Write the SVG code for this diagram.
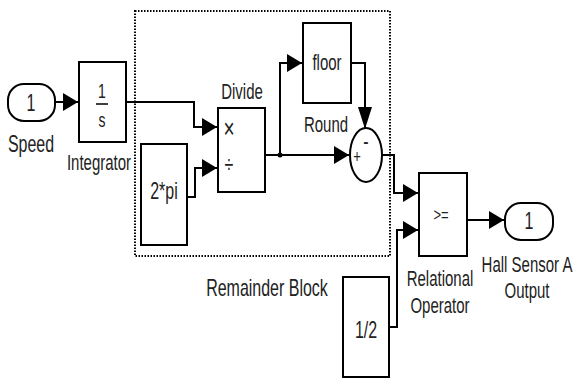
<svg xmlns="http://www.w3.org/2000/svg" width="575" height="383" viewBox="0 0 575 383">
<defs>
<marker id="ah" markerUnits="userSpaceOnUse" markerWidth="16" markerHeight="18" refX="15" refY="9" orient="auto">
<path d="M0,0 L15,9 L0,18 Z" fill="#000"/>
</marker>
<marker id="av" markerUnits="userSpaceOnUse" markerWidth="16" markerHeight="23" refX="8" refY="22" orient="0">
<path d="M1,0 L15,0 L8,22 Z" fill="#000"/>
</marker>
<style>
.b{fill:#fff;stroke:#000;stroke-width:2}
.w{fill:none;stroke:#000;stroke-width:2}
text{font-family:"Liberation Sans",Arial,sans-serif;font-size:15px;fill:#222;text-anchor:middle}
</style>
</defs>
<rect x="135" y="11" width="255" height="245" fill="none" stroke="#000" stroke-width="2" stroke-dasharray="1.5,1.5"/>
<g id="connectors">
<path class="w" d="M55,102 L78,102" marker-end="url(#ah)"/>
<path class="w" d="M126,102 L194,102 L194,127 L217,127" marker-end="url(#ah)"/>
<path class="w" d="M187,197 L195,197 L195,168 L217,168" marker-end="url(#ah)"/>
<path class="w" d="M265,155 L349,155" marker-end="url(#ah)"/>
<path class="w" d="M280,155 L280,63 L302,63" marker-end="url(#ah)"/>
<path class="w" d="M351,63 L365,63 L365,129" marker-end="url(#av)"/>
<path class="w" d="M382,155 L394,155 L394,193 L418,193" marker-end="url(#ah)"/>
<path class="w" d="M389,327 L397,327 L397,230 L418,230" marker-end="url(#ah)"/>
<path class="w" d="M467,220 L504,220" marker-end="url(#ah)"/>
<circle cx="280" cy="155" r="2.5" fill="#000"/>
</g>
<g id="speed">
<rect class="b" x="8" y="84" width="47" height="37" rx="16"/>
<text transform="translate(31,111) scale(1,1.45)" style="font-size:16px">1</text>
<text transform="translate(31,152) scale(1,1.45)" style="font-size:16px">Speed</text>
</g>
<g id="integrator">
<rect class="b" x="79" y="62" width="47" height="80"/>
<text transform="translate(102,98) scale(1,1.45)" style="font-size:14px">1</text>
<line x1="96" y1="104" x2="108" y2="104" stroke="#000" stroke-width="1.5"/>
<text transform="translate(102,127) scale(1,1.45)" style="font-size:14px">s</text>
<text transform="translate(99,170) scale(1,1.45)">Integrator</text>
</g>
<g id="twopi">
<rect class="b" x="141" y="144" width="46" height="101"/>
<text transform="translate(164,199) scale(1,1.45)" style="font-size:16px">2*pi</text>
</g>
<g id="divide">
<rect class="b" x="218" y="108" width="47" height="84"/>
<text transform="translate(242,99) scale(1,1.45)">Divide</text>
<text transform="translate(229,138) scale(1,1.45)" style="font-size:19px">×</text>
<text transform="translate(229,173) scale(1,1.45)" style="font-size:16px">÷</text>
</g>
<g id="floor">
<rect class="b" x="303" y="23" width="48" height="80"/>
<text transform="translate(327,70) scale(1,1.45)">floor</text>
</g>
<g id="round">
<ellipse class="b" cx="366" cy="155" rx="16" ry="27"/>
<text transform="translate(326,132) scale(1,1.45)">Round</text>
<text transform="translate(366,149) scale(1,1.45)" style="font-size:16px">-</text>
<text transform="translate(357,163) scale(1,1.45)" style="font-size:13px">+</text>
</g>
<g id="relational">
<rect class="b" x="419" y="173" width="48" height="83"/>
<text transform="translate(441,221) scale(1,1.45)" style="font-size:13px">&gt;=</text>
<text transform="translate(440,286) scale(1,1.45)">Relational</text>
<text transform="translate(440,313) scale(1,1.45)">Operator</text>
</g>
<g id="half">
<rect class="b" x="343" y="277" width="46" height="100"/>
<text transform="translate(366,338) scale(1,1.45)" style="font-size:16px">1/2</text>
</g>
<g id="hall">
<rect class="b" x="505" y="203" width="48" height="37" rx="16"/>
<text transform="translate(529,229) scale(1,1.45)" style="font-size:16px">1</text>
<text transform="translate(527,272) scale(1,1.45)">Hall Sensor A</text>
<text transform="translate(527,298) scale(1,1.45)">Output</text>
</g>
<g id="remainder">
<text transform="translate(267,296) scale(1,1.45)" style="font-size:16px">Remainder Block</text>
</g>
</svg>
